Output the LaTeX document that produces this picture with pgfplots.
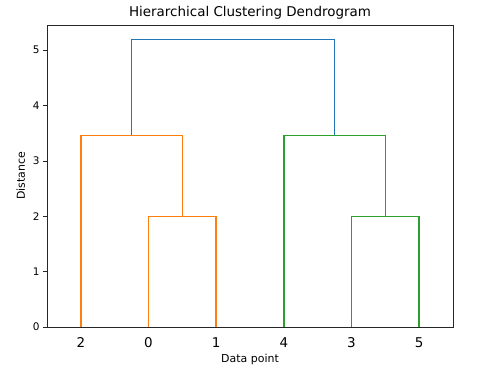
\documentclass[border=0pt]{standalone}
\usepackage{fontspec}
\setmainfont{DejaVu Sans}
\usepackage{pgfplots}
\pgfplotsset{compat=1.18}
\definecolor{c0}{HTML}{1F77B4}
\definecolor{c1}{HTML}{FF7F0E}
\definecolor{c2}{HTML}{2CA02C}
\begin{document}
\begin{tikzpicture}
\path[use as bounding box] (-47bp,-45bp) rectangle (443bp,327bp);
\begin{axis}[
  at={(0,0)}, anchor=south west,
  scale only axis, width=406bp, height=302bp,
  xmin=0, xmax=60, ymin=0, ymax=5.456,
  xtick={5,15,25,35,45,55},
  xticklabels={2,0,1,4,3,5},
  ytick={0,1,2,3,4,5},
  /pgf/number format/assume math mode=true,
  x tick label style={font=\fontsize{13.5}{15}\selectfont, yshift=-3bp},
  y tick label style={font=\fontsize{10.5}{12}\selectfont},
  major x tick style={draw=none},
  tick align=outside, major tick length=4bp,
  xtick pos=bottom, ytick pos=left,
  axis line style={line width=0.8bp, black!85},
  tick style={line width=0.8bp, black!85},
  title={Hierarchical Clustering Dendrogram},
  title style={font=\fontsize{13.5}{15}\selectfont, yshift=-4bp},
  xlabel={Data point}, ylabel={Distance},
  label style={font=\fontsize{11}{12}\selectfont},
  xlabel style={yshift=0bp},
  ylabel style={yshift=1bp},
  every axis plot/.append style={line width=1.4bp, line join=miter},
]
\addplot[c1] coordinates {(15,0) (15,2) (25,2) (25,0)};
\addplot[c1] coordinates {(5,0) (5,3.4641) (20,3.4641) (20,2)};
\addplot[c2] coordinates {(45,0) (45,2) (55,2) (55,0)};
\addplot[c2] coordinates {(35,0) (35,3.4641) (50,3.4641) (50,2)};
\addplot[c0] coordinates {(12.5,3.4641) (12.5,5.1962) (42.5,5.1962) (42.5,3.4641)};
\end{axis}
\end{tikzpicture}
\end{document}
